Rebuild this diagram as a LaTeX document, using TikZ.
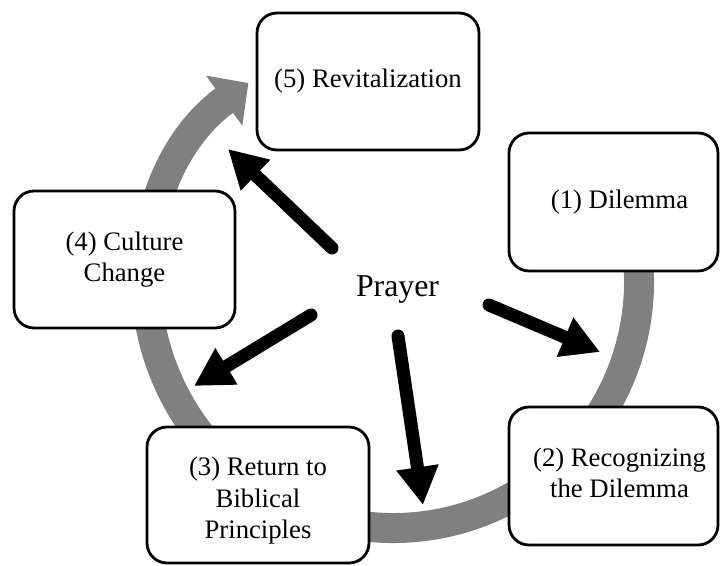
\documentclass[tikz,border=0pt]{standalone}
\usepackage{fontspec}
\setmainfont{Liberation Serif}
\usetikzlibrary{arrows.meta}
\definecolor{ringgray}{RGB}{128,128,128}
\newcommand{\shiftedtext}[1]{\begin{tabular}{@{\hspace{12pt}}c@{}}#1\end{tabular}}
\begin{document}
\begin{tikzpicture}[x=1pt,y=1pt,
  boxfont/.style={font=\fontsize{26.7}{30.5}\selectfont},
  box/.style={draw=black, line width=2.8pt, rounded corners=20pt, fill=white, align=center,
    boxfont, inner sep=0pt},
  ring/.style={draw=ringgray, line width=30pt, -{Triangle[width=60pt,length=30pt]}},
  ray/.style={draw=black, line width=13pt, line cap=round, -{Triangle[width=40pt,length=38pt]}}]
\useasboundingbox (0,0) rectangle (720,-565);
\fill[white] (0,0) rectangle (720,-565);

% cycle ring
\coordinate (c) at (393,-282);
\draw[ring] (c) ++(30:246) arc[start angle=30, end angle=-234, radius=246];

% centre label
\node[anchor=base, font=\fontsize{31.8}{36}\selectfont, inner sep=0pt] (prayer) at (397.5,-296) {Prayer};

% ray end points
\coordinate (t5) at (332,-248);  \coordinate (h5) at (228,-149);
\coordinate (t4) at (311,-315);  \coordinate (h4) at (194,-386);
\coordinate (t3) at (398,-336);  \coordinate (h3) at (423,-505);
\coordinate (t2) at (489,-305);  \coordinate (h2) at (600,-352);
\draw[ray] (t5) -- (h5);
\draw[ray] (t4) -- (h4);
\draw[ray] (t3) -- (h3);
\draw[ray] (t2) -- (h2);

% boxes
\node[box, minimum width=222pt, minimum height=137pt] (b5) at (368,-81.5) {(5) Revitalization};
\node[box, minimum width=209pt, minimum height=138pt] (b1) at (613.5,-202) {\shiftedtext{(1) Dilemma}};
\node[box, minimum width=209pt, minimum height=138pt] (b2) at (613.5,-476) {\shiftedtext{(2) Recognizing\\the Dilemma}};
\node[box, minimum width=222pt, minimum height=136pt,
  label={[boxfont, align=center, inner sep=0pt, yshift=-6pt, font=\fontsize{26.7}{31.5}\selectfont]center:{(3) Return to\\Biblical\\Principles}}] (b3) at (258,-495) {};
\node[box, minimum width=221pt, minimum height=137pt] (b4) at (124.5,-259.5) {(4) Culture\\Change};
\end{tikzpicture}
\end{document}
